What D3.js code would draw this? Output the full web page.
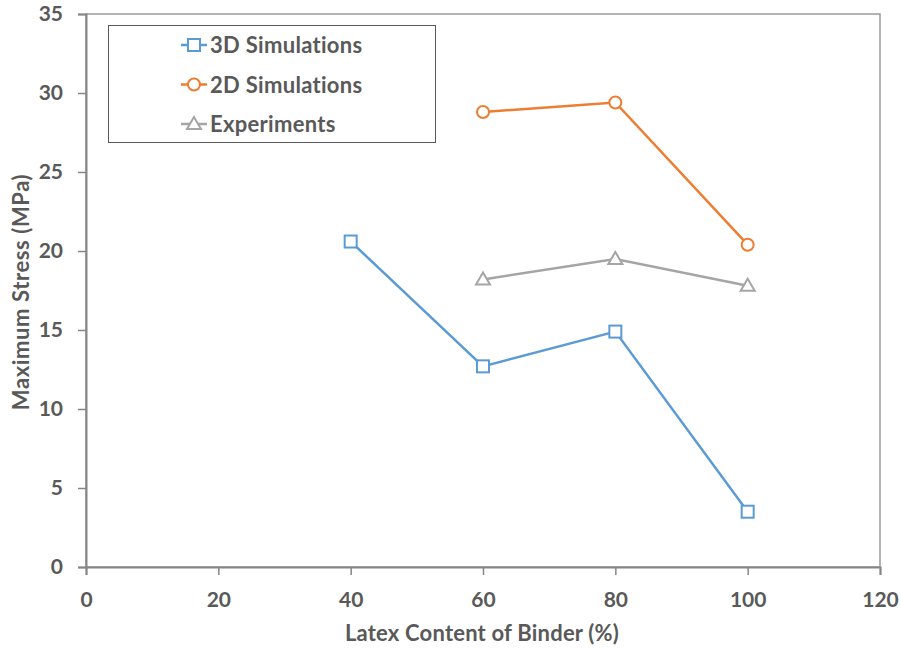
<!DOCTYPE html>
<html><head><meta charset="utf-8">
<script src="https://cdn.jsdelivr.net/npm/d3@7"></script>
<style>body{margin:0;background:#fff}svg{display:block}text{font-family:Lato,"Open Sans",sans-serif;font-weight:bold;fill:#595959}</style>
</head><body>
<script>
const xValues = [40, 60, 80, 100];
const sim3D = [20.6, 12.7, 14.9, 3.5];
const sim2D = [null, 28.8, 29.4, 20.4];
const experiments = [null, 18.2, 19.5, 17.8];
const seriesNames = ["3D Simulations", "2D Simulations", "Experiments"];
const xTicks = [0, 20, 40, 60, 80, 100, 120];
const yTicks = [0, 5, 10, 15, 20, 25, 30, 35];
const xTitle = "Latex Content of Binder (%)";
const yTitle = "Maximum Stress (MPa)";

const W = 901, H = 649;
const m = {l: 86, r: 21, t: 14, b: 82};
const svg = d3.select("body").append("svg").attr("width", W).attr("height", H);
const x = d3.scaleLinear().domain([0, 120]).range([m.l, W - m.r]);
const y = d3.scaleLinear().domain([0, 35]).range([H - m.b, m.t]);

// plot frame
svg.append("rect").attr("x", x(0)).attr("y", y(35)).attr("width", x(120) - x(0)).attr("height", y(0) - y(35))
  .attr("fill", "none").attr("stroke", "#9a9a9a").attr("stroke-width", 1.5);

const xa = svg.append("g").attr("transform", `translate(0,${y(0)})`)
  .call(d3.axisBottom(x).tickValues(xTicks).tickSize(8).tickPadding(17));
const ya = svg.append("g").attr("transform", `translate(${x(0)},0)`)
  .call(d3.axisLeft(y).tickValues(yTicks).tickSize(8).tickPadding(15));
[xa, ya].forEach(a => {
  a.selectAll("path").attr("stroke", "#868686").attr("stroke-width", 2);
  a.selectAll("line").attr("stroke", "#868686").attr("stroke-width", 1.5);
  a.selectAll("text").attr("fill", "#595959").style("font-size", "21px").style("font-family", "Lato, sans-serif").style("font-weight", "bold");
});

svg.append("text").attr("x", 482).attr("y", 641).attr("text-anchor", "middle")
  .style("font-size", "22px").style("letter-spacing", "0.2px").text(xTitle);
svg.append("text").attr("transform", `translate(29,292) rotate(-90)`).attr("text-anchor", "middle")
  .style("font-size", "22px").style("letter-spacing", "0.6px").text(yTitle);

const colors = ["#5B9BD5", "#ED7D31", "#A5A5A5"];
const shapes = ["square", "circle", "triangle"];
const allSeries = [sim3D, sim2D, experiments];

function drawMarker(g, shape, cx, cy, color) {
  if (shape === "square") g.append("rect").attr("x", cx - 6).attr("y", cy - 6).attr("width", 12).attr("height", 12)
    .attr("fill", "#fff").attr("stroke", color).attr("stroke-width", 2);
  else if (shape === "circle") g.append("circle").attr("cx", cx).attr("cy", cy).attr("r", 6)
    .attr("fill", "#fff").attr("stroke", color).attr("stroke-width", 2);
  else g.append("path").attr("d", `M${cx},${cy - 7}L${cx + 7},${cy + 5}L${cx - 7},${cy + 5}Z`)
    .attr("fill", "#fff").attr("stroke", color).attr("stroke-width", 2);
}

const line = d3.line().defined(d => d.v != null).x(d => x(d.x)).y(d => y(d.v));
allSeries.forEach((s, i) => {
  const pts = xValues.map((xv, j) => ({x: xv, v: s[j]}));
  svg.append("path").datum(pts).attr("d", line).attr("fill", "none").attr("stroke", colors[i]).attr("stroke-width", 2.5);
  const g = svg.append("g");
  pts.filter(d => d.v != null).forEach(d => drawMarker(g, shapes[i], x(d.x), y(d.v), colors[i]));
});

// legend
const lg = svg.append("g");
lg.append("rect").attr("x", 108.5).attr("y", 25.5).attr("width", 327).attr("height", 117)
  .attr("fill", "#fff").attr("stroke", "#595959").attr("stroke-width", 1);
seriesNames.forEach((n, i) => {
  const cy = 45 + i * 39.5;
  lg.append("line").attr("x1", 181).attr("x2", 207).attr("y1", cy).attr("y2", cy).attr("stroke", colors[i]).attr("stroke-width", 2.5);
  drawMarker(lg, shapes[i], 194, cy, colors[i]);
  lg.append("text").attr("x", 210).attr("y", cy + 8).style("font-size", "22px").style("letter-spacing", "0.3px").text(n);
});
</script>
</body></html>
